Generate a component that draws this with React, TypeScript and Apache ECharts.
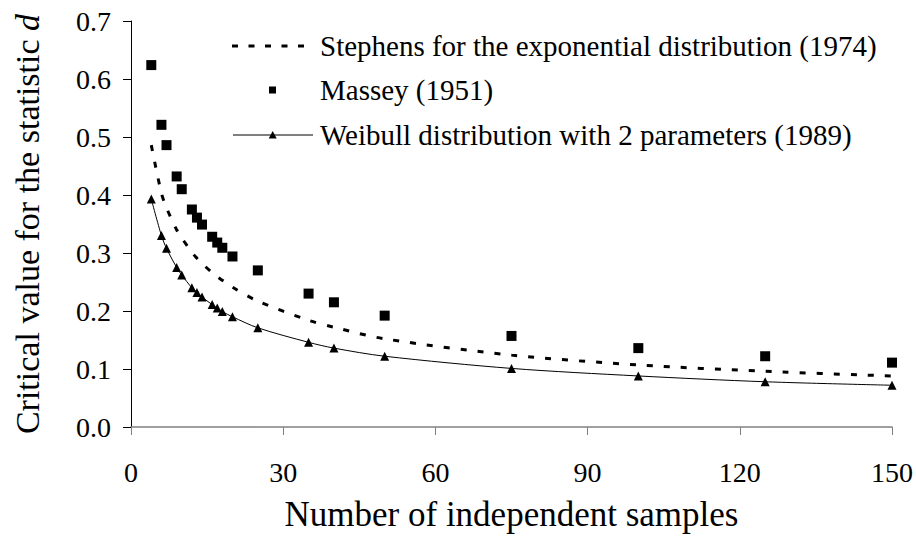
import React, { useEffect, useRef } from "react";
import * as echarts from "echarts";

const sampleSizes = [4, 6, 7, 9, 10, 12, 13, 14, 16, 17, 18, 20, 25, 35, 40, 50, 75, 100, 125, 150];
const stephensValues = [0.486, 0.403, 0.378, 0.340, 0.326, 0.301, 0.291, 0.282, 0.266, 0.259, 0.253, 0.241, 0.217, 0.184, 0.172, 0.152, 0.124, 0.107, 0.096, 0.088];
const masseyValues = [0.624, 0.521, 0.486, 0.432, 0.410, 0.375, 0.361, 0.349, 0.328, 0.318, 0.309, 0.294, 0.270, 0.230, 0.215, 0.192, 0.157, 0.136, 0.122, 0.111];
const weibullValues = [0.393, 0.330, 0.308, 0.275, 0.262, 0.240, 0.232, 0.224, 0.211, 0.205, 0.199, 0.190, 0.171, 0.146, 0.136, 0.122, 0.101, 0.088, 0.078, 0.072];

const seriesNames = [
  "Stephens for the exponential distribution (1974)",
  "Massey (1951)",
  "Weibull distribution with 2 parameters (1989)",
];
const xTitle = "Number of independent samples";
const yTitle = "Critical value for the statistic {i|d}";

const FONT = "Liberation Serif";

function pairs(xs: number[], ys: number[]) {
  return xs.map((x, i) => [x, ys[i]]);
}

export default function App() {
  const ref = useRef<HTMLDivElement>(null);
  useEffect(() => {
    if (!ref.current) return;
    const chart = echarts.init(ref.current, null, { renderer: "svg" });
    const rows = [46, 90, 135];
    const textX = 320;
    const legendTextStyle = (i: number) => ({
      text: seriesNames[i],
      x: textX,
      y: rows[i],
      fill: "#000",
      fontFamily: FONT,
      fontSize: 29,
      verticalAlign: "middle",
      align: "left",
    });
    chart.setOption({
      animation: false,
      backgroundColor: "#fff",
      textStyle: { fontFamily: FONT },
      grid: { left: 131, right: 24, top: 21, bottom: 109, containLabel: false },
      graphic: [
        {
          type: "line",
          shape: { x1: 232, y1: rows[0], x2: 309, y2: rows[0] },
          style: { stroke: "#000", lineWidth: 3, lineDash: [6, 10.5] },
          silent: true,
        },
        { type: "text", style: legendTextStyle(0), silent: true },
        {
          type: "rect",
          shape: { x: 269, y: rows[1] - 3.5, width: 7, height: 7 },
          style: { fill: "#000" },
          silent: true,
        },
        { type: "text", style: legendTextStyle(1), silent: true },
        {
          type: "line",
          shape: { x1: 233, y1: rows[2], x2: 313, y2: rows[2] },
          style: { stroke: "#000", lineWidth: 1 },
          silent: true,
        },
        {
          type: "polygon",
          shape: { points: [[268.7, rows[2] + 3.5], [276.7, rows[2] + 3.5], [272.7, rows[2] - 4]] },
          style: { fill: "#000" },
          silent: true,
        },
        { type: "text", style: legendTextStyle(2), silent: true },
      ],
      xAxis: {
        type: "value",
        min: 0,
        max: 150,
        interval: 30,
        name: xTitle,
        nameLocation: "middle",
        nameGap: 70,
        nameTextStyle: { fontFamily: FONT, fontSize: 35, color: "#000" },
        axisLine: { lineStyle: { color: "#808080", width: 1.5 } },
        axisTick: { inside: false, length: 8, lineStyle: { color: "#808080", width: 1 } },
        axisLabel: { fontFamily: FONT, fontSize: 28, color: "#000", margin: 31 },
        splitLine: { show: false },
      },
      yAxis: {
        type: "value",
        min: 0,
        max: 0.7,
        interval: 0.1,
        name: yTitle,
        nameLocation: "middle",
        nameGap: 87,
        nameRotate: 90,
        nameTextStyle: {
          fontFamily: FONT,
          fontSize: 34,
          color: "#000",
          rich: { i: { fontFamily: FONT, fontSize: 34, fontStyle: "italic", color: "#000" } },
        },
        axisLine: { show: true, lineStyle: { color: "#000", width: 1 } },
        axisTick: { show: true, inside: false, length: 8, lineStyle: { color: "#000", width: 1 } },
        axisLabel: {
          fontFamily: FONT,
          fontSize: 28,
          color: "#000",
          margin: 20,
          formatter: (v: number) => v.toFixed(1),
        },
        splitLine: { show: false },
      },
      series: [
        {
          name: seriesNames[0],
          type: "line",
          data: pairs(sampleSizes, stephensValues),
          smooth: 0.3,
          showSymbol: false,
          symbol: "none",
          lineStyle: { color: "#000", width: 3, type: [6, 11] },
          itemStyle: { color: "#000" },
          z: 2,
        },
        {
          name: seriesNames[1],
          type: "scatter",
          data: pairs(sampleSizes, masseyValues),
          symbol: "rect",
          symbolSize: 10,
          itemStyle: { color: "#000", opacity: 1 },
          z: 3,
        },
        {
          name: seriesNames[2],
          type: "line",
          data: pairs(sampleSizes, weibullValues),
          smooth: 0.3,
          symbol: "triangle",
          symbolSize: 9,
          showSymbol: true,
          lineStyle: { color: "#000", width: 1 },
          itemStyle: { color: "#000", opacity: 1 },
          z: 4,
        },
      ],
    });
    return () => chart.dispose();
  }, []);
  return (
    <div
      ref={ref}
      style={{ position: "fixed", left: 0, top: 0, width: 916, height: 537, background: "#fff" }}
    />
  );
}
